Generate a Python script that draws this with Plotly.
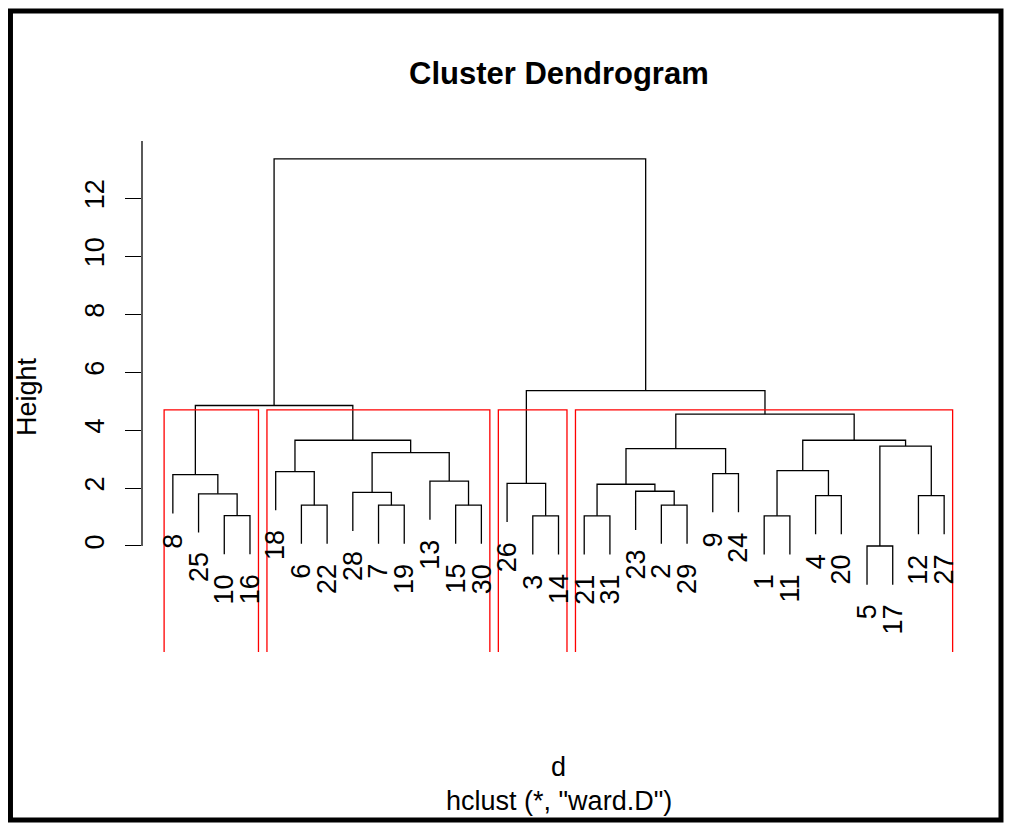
import plotly.graph_objects as go

# ---- data (R hclust-style merge table: negative = leaf label, positive = earlier merge, 1-based)
merge_left = [-5, -10, -3, -21, -1, -6, -7, -15, -2, -4, -12, -25, -28, -23, 4,
              -26, -13, -8, -9, -18, 5, 13, 15, 1, 20, 21, 23, 18, 16, 28]
merge_right = [-17, -16, -14, -31, -11, -22, -19, -30, -29, -20, -27, 2, 7, 9, 14,
               3, 8, 12, -24, 6, 10, 17, 19, 11, 22, 24, 26, 25, 27, 29]
merge_height = [0.00, 1.05, 1.04, 1.04, 1.04, 1.41, 1.41, 1.41, 1.41, 1.74, 1.74,
                1.80, 1.85, 1.89, 2.13, 2.16, 2.24, 2.46, 2.50, 2.57, 2.60, 3.22,
                3.36, 3.45, 3.65, 3.65, 4.55, 4.85, 5.36, 13.36]
y_tick_values = [0, 2, 4, 6, 8, 10, 12]
n_clusters = 4
hang_fraction = 0.1

FONT = "Liberation Sans, Arial, Helvetica, sans-serif"
Y_RANGE = [-3.66, 13.98]
X_RANGE = [-0.2, 32.2]

root = len(merge_height)


def leaf_order(node):
    if node < 0:
        return [-node]
    return leaf_order(merge_left[node - 1]) + leaf_order(merge_right[node - 1])


order = leaf_order(root)
pos = {lab: i + 1 for i, lab in enumerate(order)}
hang = hang_fraction * (max(merge_height) - min(merge_height))

xcache = {}


def node_x(node):
    if node < 0:
        return pos[-node]
    if node not in xcache:
        xcache[node] = (node_x(merge_left[node - 1]) + node_x(merge_right[node - 1])) / 2
    return xcache[node]


lx, ly = [], []
leaf_bottom = {}
for i in range(1, root + 1):
    h = merge_height[i - 1]
    a, b = merge_left[i - 1], merge_right[i - 1]
    pts = []
    for c in (a, b):
        if c < 0:
            yc = h - hang
            leaf_bottom[-c] = yc
        else:
            yc = merge_height[c - 1]
        pts.append((node_x(c), yc))
    lx += [pts[0][0], pts[0][0], pts[1][0], pts[1][0], None]
    ly += [pts[0][1], h, h, pts[1][1], None]

fig = go.Figure()
fig.add_trace(go.Scatter(x=lx, y=ly, mode="lines", line=dict(color="black", width=1.3),
                         hoverinfo="skip", showlegend=False))

# ---- rect.hclust(k=4)
groups = [root]
while len(groups) < n_clusters:
    top = max([g for g in groups if g > 0])
    idx = groups.index(top)
    groups[idx:idx + 1] = [merge_left[top - 1], merge_right[top - 1]]
sorted_heights = sorted(merge_height, reverse=True)
rect_top = (sorted_heights[n_clusters - 2] + sorted_heights[n_clusters - 1]) / 2
rx, ry = [], []
m = 0
for g in groups:
    cnt = len(leaf_order(g))
    x0 = m + 0.66
    x1 = m + cnt + 0.33
    rx += [x0, x0, x1, x1, None]
    ry += [Y_RANGE[0], rect_top, rect_top, Y_RANGE[0], None]
    m += cnt
fig.add_trace(go.Scatter(x=rx, y=ry, mode="lines", line=dict(color="#ff0000", width=1.3),
                         hoverinfo="skip", showlegend=False))

annotations = []
for lab in order:
    annotations.append(dict(x=pos[lab], y=leaf_bottom[lab], xref="x", yref="y",
                            text=str(lab), showarrow=False, textangle=-90,
                            xanchor="center", yanchor="top", yshift=-18,
                            font=dict(family=FONT, size=27, color="black")))

annotations += [
    dict(x=0.5, y=1.133, xref="paper", yref="paper", text="<b>Cluster Dendrogram</b>",
         showarrow=False, xanchor="center", yanchor="middle",
         font=dict(family=FONT, size=31, color="black")),
    dict(x=-0.138, y=0.499, xref="paper", yref="paper", text="Height", textangle=-90,
         showarrow=False, xanchor="center", yanchor="middle",
         font=dict(family=FONT, size=27, color="black")),
    dict(x=0.5, y=-0.226, xref="paper", yref="paper", text="d",
         showarrow=False, xanchor="center", yanchor="middle",
         font=dict(family=FONT, size=27, color="black")),
    dict(x=0.5, y=-0.2916, xref="paper", yref="paper", text='hclust (*, "ward.D")',
         showarrow=False, xanchor="center", yanchor="middle",
         font=dict(family=FONT, size=27, color="black")),
]

shapes = [
    # y axis line (R style: from 0 up to top of plot region)
    dict(type="line", xref="paper", yref="y", x0=0, x1=0, y0=0, y1=Y_RANGE[1],
         line=dict(color="black", width=1.3)),
    # outer black frame
    dict(type="rect", xref="paper", yref="paper", x0=-0.1579, x1=1.0312,
         y0=-0.3288, y1=1.2544, line=dict(color="black", width=5)),
]

# the page body adds an 8px offset, so the figure is sized 8px smaller
fig.update_layout(
    width=1005, height=825,
    margin=dict(l=134, r=38, t=133, b=181, pad=0),
    paper_bgcolor="white", plot_bgcolor="white",
    xaxis=dict(range=X_RANGE, visible=False, fixedrange=True),
    yaxis=dict(range=Y_RANGE, tickvals=y_tick_values, ticks="outside", ticklen=16,
               tickwidth=1.3, tickcolor="black", showgrid=False, zeroline=False,
               showline=False, tickangle=-90, ticklabelstandoff=10,
               tickfont=dict(family=FONT, size=27, color="black"), fixedrange=True),
    annotations=annotations, shapes=shapes, showlegend=False,
)

fig.write_html("out.html")
